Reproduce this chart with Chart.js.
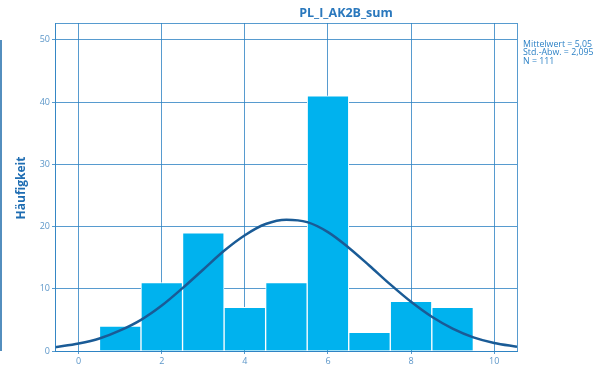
<!DOCTYPE html>
<html>
<head>
<meta charset="utf-8">
<script src="https://cdn.jsdelivr.net/npm/chart.js@4"></script>
<style>
  html, body { margin: 0; padding: 0; background: #fff; }
  #wrap { width: 612px; height: 367px; position: relative; }
</style>
</head>
<body>
<div id="wrap"><canvas id="myChart" width="612" height="367"></canvas></div>
<script>
// Histogramm-Daten (Klassenmitten und Häufigkeiten)
const klassen = [1, 2, 3, 4, 5, 6, 7, 8, 9];
const haeufigkeit = [4, 11, 19, 7, 11, 41, 3, 8, 7];

// Normalverteilungskurve
const kurveX = [-0.57, 0, 0.5, 1, 1.5, 2, 2.5, 3, 3.5, 4, 4.5, 5, 5.5, 6, 6.5, 7, 7.5, 8, 8.5, 9, 9.5, 10, 10.55];
const kurveY = [0.6, 1.2, 2.0, 3.3, 5.0, 7.3, 10.1, 13.1, 16.1, 18.6, 20.4, 21.1, 20.7, 19.1, 16.6, 13.7, 10.7, 7.9, 5.5, 3.6, 2.2, 1.3, 0.7];

const titel = 'PL_I_AK2B_sum';
const statistik = ['Mittelwert = 5,05', 'Std.-Abw. = 2,095', 'N = 111'];
const yTitel = 'Häufigkeit';

const gridFarbe = 'rgba(45, 130, 195, 0.8)';
const tickFarbe = '#5d97c9';
const schrift = "'Open Sans', 'Noto Sans', sans-serif";

// Plugin für Titel, Rahmen und Texte
const extras = {
    id: 'extras',
    afterDraw(chart) {
        const ctx = chart.ctx;
        const a = chart.chartArea;
        ctx.save();
        // Rahmen oben/rechts
        ctx.strokeStyle = gridFarbe;
        ctx.lineWidth = 1;
        ctx.strokeRect(a.left + 0.5, a.top + 0.5, a.right - a.left, a.bottom - a.top);

        // Linie links
        ctx.strokeStyle = '#1a68a8';
        ctx.lineWidth = 1.5;
        ctx.beginPath();
        ctx.moveTo(1, 40);
        ctx.lineTo(1, 351);
        ctx.stroke();

        // Titel
        ctx.fillStyle = '#2a78bd';
        ctx.font = "bold 12.5px " + schrift;
        ctx.textAlign = 'center';
        ctx.textBaseline = 'middle';
        ctx.fillText(titel, 346, 13);

        // Statistik
        ctx.fillStyle = '#2d82c6';
        ctx.font = "500 8.8px " + schrift;
        ctx.textAlign = 'left';
        statistik.forEach((t, i) => ctx.fillText(t, 523, 44 + i * 8.8));

        // Y-Achsentitel
        ctx.translate(22, 188);
        ctx.rotate(-Math.PI / 2);
        ctx.fillStyle = '#1f6db2';
        ctx.font = "bold 12px " + schrift;
        ctx.textAlign = 'center';
        ctx.fillText(yTitel, 0, 0);
        ctx.restore();
    }
};

const config = {
    type: 'bar',
    data: {
        datasets: [{
            type: 'line',
            data: kurveX.map((x, i) => ({ x: x, y: kurveY[i] })),
            borderColor: '#1a5b96',
            borderWidth: 2.5,
            pointRadius: 0,
            cubicInterpolationMode: 'monotone',
            fill: false,
            order: 0
        }, {
            type: 'bar',
            data: klassen.map((k, i) => ({ x: k, y: haeufigkeit[i] })),
            backgroundColor: '#00b2ee',
            borderColor: '#ffffff',
            borderWidth: 1,
            barPercentage: 1,
            categoryPercentage: 1,
            order: 1
        }]
    },
    options: {
        responsive: false,
        animation: false,
        layout: { padding: { top: 23, right: 95, left: 0, bottom: 0 } },
        plugins: {
            legend: { display: false },
            tooltip: { enabled: false }
        },
        scales: {
            x: {
                type: 'linear',
                min: -0.57,
                max: 10.55,
                offset: false,
                afterFit: s => { s.height = 16; },
                grid: { color: gridFarbe, lineWidth: 1, tickLength: 3, offset: false },
                border: { color: gridFarbe },
                ticks: {
                    stepSize: 2,
                    includeBounds: false,
                    color: tickFarbe,
                    padding: 2,
                    maxRotation: 0,
                    font: { size: 9, family: schrift }
                }
            },
            y: {
                min: 0,
                max: 52.7,
                afterFit: s => { s.width = 55; },
                grid: { color: gridFarbe, lineWidth: 1, tickLength: 3 },
                border: { color: gridFarbe },
                ticks: {
                    stepSize: 10,
                    includeBounds: false,
                    color: tickFarbe,
                    padding: 2,
                    font: { size: 9, family: schrift }
                }
            }
        }
    },
    plugins: [extras]
};

const myChart = new Chart(document.getElementById('myChart'), config);
</script>
</body>
</html>
